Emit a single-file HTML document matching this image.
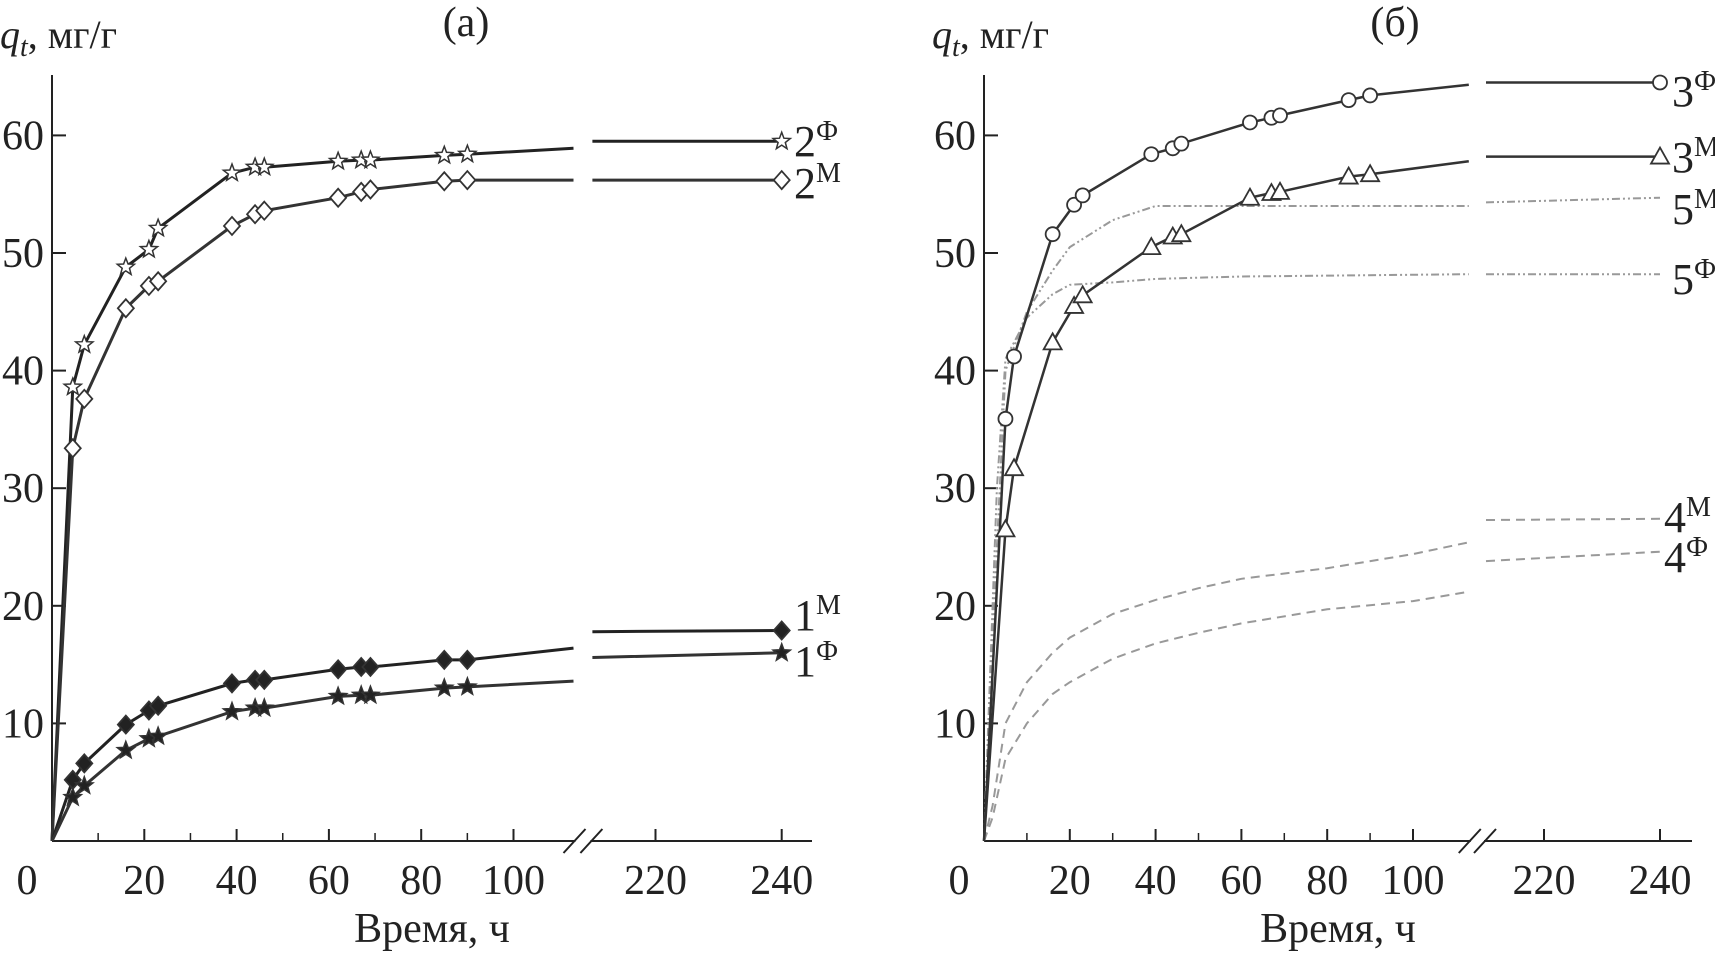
<!DOCTYPE html>
<html><head><meta charset="utf-8"><style>
html,body{margin:0;padding:0;background:#fff;}
svg{display:block;}
text{font-family:"Liberation Serif",serif;fill:#222;}
</style></head><body>
<svg id="chart" width="1715" height="953" viewBox="0 0 1715 953" xmlns="http://www.w3.org/2000/svg">
<g id="gA"></g>
<g id="gB"></g>
</svg>
<script>
const tA = [0,4.5,7,16,21,23,39,44,46,62,67,69,85,90,113];
const tPost = [210,240];
const s2f = [0,38.6,42.2,48.8,50.3,52.1,56.8,57.3,57.3,57.8,57.9,57.9,58.3,58.4,58.9];
const s2fPost = [59.5,59.5];
const s2m = [0,33.4,37.6,45.3,47.2,47.6,52.3,53.3,53.6,54.7,55.2,55.4,56.1,56.2,56.2];
const s2mPost = [56.2,56.2];
const s1m = [0,5.2,6.6,9.9,11.1,11.5,13.4,13.7,13.7,14.6,14.8,14.8,15.4,15.4,16.4];
const s1mPost = [17.8,17.9];
const s1f = [0,3.7,4.7,7.7,8.7,8.9,11.0,11.3,11.3,12.3,12.4,12.4,13.0,13.1,13.6];
const s1fPost = [15.6,16.0];
const tB = [0,5,7,16,21,23,39,44,46,62,67,69,85,90,113];
const s3f = [0,35.9,41.2,51.6,54.1,54.9,58.4,58.9,59.3,61.1,61.5,61.7,63.0,63.4,64.3];
const s3fPost = [64.5,64.5];
const s3m = [0,26.5,31.7,42.4,45.5,46.4,50.5,51.4,51.6,54.7,55.1,55.2,56.5,56.7,57.8];
const s3mPost = [58.2,58.2];
const t5 = [0,3,5,10,16,20,30,40,60,113];
const s5m = [0,25,40,45,48.5,50.5,52.8,54,54,54];
const s5mPost = [54.3,54.7];
const s5f = [0,30,41,44.5,46.5,47.3,47.5,47.8,48.0,48.2];
const s5fPost = [48.2,48.2];
const t4 = [0,2,5,10,16,20,30,40,50,60,80,100,113];
const s4m = [0,3,10,13.5,16,17.3,19.3,20.5,21.5,22.3,23.2,24.4,25.4];
const s4mPost = [27.3,27.4];
const s4f = [0,2,7,10,12.5,13.5,15.5,16.8,17.7,18.5,19.7,20.4,21.2];
const s4fPost = [23.8,24.6];
const yTicks = [10,20,30,40,50,60];
const xTicksLow = [0,20,40,60,80,100];
const xTicksHigh = [220,240];

const NS="http://www.w3.org/2000/svg";
const Y0=841, KY=11.76;
function yS(q){return Y0-q*KY;}
const panels={
 A:{x0:52, k:4.615, bx:655.5, bk:6.31, end:812, g:document.getElementById('gA')},
 B:{x0:984, k:4.29, bx:1544, bk:5.8, end:1692, g:document.getElementById('gB')}
};
function xS(p,t){return t<=150? p.x0+t*p.k : p.bx+(t-220)*p.bk;}
function mk(tag,attrs,parent){const e=document.createElementNS(NS,tag);for(const k in attrs)e.setAttribute(k,attrs[k]);parent.appendChild(e);return e;}

function axes(p,title,name){
 const g=p.g;
 let a=mk('line',{x1:p.x0,y1:75,x2:p.x0,y2:Y0,stroke:'#222','stroke-width':2},g);
 
 
 let bx1=xS(p,113)+2, bx2=xS(p,210)-2;
 let b=mk('path',{d:`M${p.x0} ${Y0} H${bx1} M${bx2} ${Y0} H${p.end}`,stroke:'#222','stroke-width':2,fill:'none'},g);
 
 
 let br=mk('path',{d:`M${bx1-12} ${Y0+12} L${bx1+10} ${Y0-12} M${bx2-10} ${Y0+12} L${bx2+12} ${Y0-12}`,stroke:'#222','stroke-width':2,fill:'none'},g);
 
 
 yTicks.forEach(v=>{
  mk('line',{x1:p.x0,y1:yS(v),x2:p.x0+14,y2:yS(v),stroke:'#222','stroke-width':2},g);
  let t=mk('text',{x:p.x0-8,y:yS(v)+14,'font-size':42,'text-anchor':'end'},g);t.textContent=v;
  
  
 });
 let z=mk('text',{x:p.x0-25,y:894,'font-size':42,'text-anchor':'middle'},g);z.textContent='0';
 
 
 xTicksLow.concat(xTicksHigh).forEach(v=>{
  const x=xS(p,v);
  if(v>0){mk('line',{x1:x,y1:Y0,x2:x,y2:Y0-12,stroke:'#222','stroke-width':2},g);
  let t=mk('text',{x:x,y:894,'font-size':42,'text-anchor':'middle'},g);t.textContent=v;
  
  }
 });
 [10,30,50,70,90].forEach(v=>mk('line',{x1:xS(p,v),y1:Y0,x2:xS(p,v),y2:Y0-8,stroke:'#222','stroke-width':1.5},g));
 let xt=mk('text',{x:(p.x0+p.end)/2,y:942,'font-size':42,'text-anchor':'middle'},g);xt.textContent='Время, ч';
 
 
 let yt=mk('text',{x:p.x0-52,y:48,'font-size':40},g);
 yt.innerHTML='<tspan font-style="italic">q</tspan><tspan font-style="italic" font-size="28" dy="8">t</tspan><tspan dy="-8">, мг/г</tspan>';
 
 
 let tt=mk('text',{x:p.x0+(p===panels.A?414:411),y:36,'font-size':42,'text-anchor':'middle'},g);tt.textContent=title;
 
 
}
function marker(g,type,x,y,name){
 let e;const r=7;
 if(type==='circle') e=mk('circle',{cx:x,cy:y,r:r,fill:'#fff',stroke:'#333','stroke-width':1.8},g);
 else if(type==='tri') e=mk('path',{d:`M${x} ${y-9} L${x+9} ${y+7} L${x-9} ${y+7}Z`,fill:'#fff',stroke:'#333','stroke-width':1.8},g);
 else if(type==='dia'||type==='fdia') e=mk('path',{d:`M${x} ${y-9} L${x+8} ${y} L${x} ${y+9} L${x-8} ${y}Z`,fill:type==='fdia'?'#222':'#fff',stroke:'#333','stroke-width':1.8},g);
 else { let d='';for(let i=0;i<10;i++){const a=-Math.PI/2+i*Math.PI/5;const rr=i%2?3.8:9;d+=(i?'L':'M')+(x+rr*Math.cos(a)).toFixed(1)+' '+(y+rr*Math.sin(a)).toFixed(1);}
   e=mk('path',{d:d+'Z',fill:type==='fstar'?'#222':'#fff',stroke:'#333','stroke-width':1.5},g);}
 
 
}
function series(p,ts,vals,post,opt,name){
 const g=p.g;
 const sg=mk('g',{},g);
 
 
 const d1=ts.map((t,i)=>(i?'L':'M')+xS(p,t).toFixed(1)+' '+yS(vals[i]).toFixed(1)).join(' ');
 const d2=tPost.map((t,i)=>(i?'L':'M')+xS(p,t).toFixed(1)+' '+yS(post[i]).toFixed(1)).join(' ');
 mk('path',{d:d1+' '+d2,fill:'none',stroke:opt.c,'stroke-width':opt.w,'stroke-dasharray':opt.dash||'none'},sg);
 if(opt.m){ts.forEach((t,i)=>{if(i>0&&i<ts.length-1)marker(sg,opt.m,xS(p,t),yS(vals[i]),'marker');});
  marker(sg,opt.m,xS(p,tPost[1]),yS(post[1]),'marker');}
}
function label(p,x,y,n,sup,name){
 const t=mk('text',{x:x,y:y,'font-size':44},p.g);
 t.innerHTML=n+'<tspan font-size="28" dy="-16">'+sup+'</tspan>';
 
 
}
const A=panels.A,B=panels.B;
axes(A,'(а)','panel-a-title');
axes(B,'(б)','panel-b-title');
series(A,tA,s2f,s2fPost,{c:'#222',w:3,m:'star'},'series-2f');
series(A,tA,s2m,s2mPost,{c:'#333',w:3,m:'dia'},'series-2m');
series(A,tA,s1m,s1mPost,{c:'#222',w:3,m:'fdia'},'series-1m');
series(A,tA,s1f,s1fPost,{c:'#333',w:3,m:'fstar'},'series-1f');
series(B,t5,s5m,s5mPost,{c:'#999',w:2,dash:'8 3 2 3 2 3'},'series-5m');
series(B,t5,s5f,s5fPost,{c:'#999',w:2,dash:'8 3 2 3 2 3'},'series-5f');
series(B,t4,s4m,s4mPost,{c:'#999',w:2,dash:'9 6'},'series-4m');
series(B,t4,s4f,s4fPost,{c:'#999',w:2,dash:'9 6'},'series-4f');
series(B,tB,s3f,s3fPost,{c:'#333',w:2.5,m:'circle'},'series-3f');
series(B,tB,s3m,s3mPost,{c:'#333',w:2.5,m:'tri'},'series-3m');
label(A,794,156,'2','Ф','label-2f');
label(A,794,198,'2','М','label-2m');
label(A,794,630,'1','М','label-1m');
label(A,794,676,'1','Ф','label-1f');
label(B,1672,106,'3','Ф','label-3f');
label(B,1672,172,'3','М','label-3m');
label(B,1672,224,'5','М','label-5m');
label(B,1672,294,'5','Ф','label-5f');
label(B,1664,532,'4','М','label-4m');
label(B,1664,572,'4','Ф','label-4f');
</script>
</body></html>
